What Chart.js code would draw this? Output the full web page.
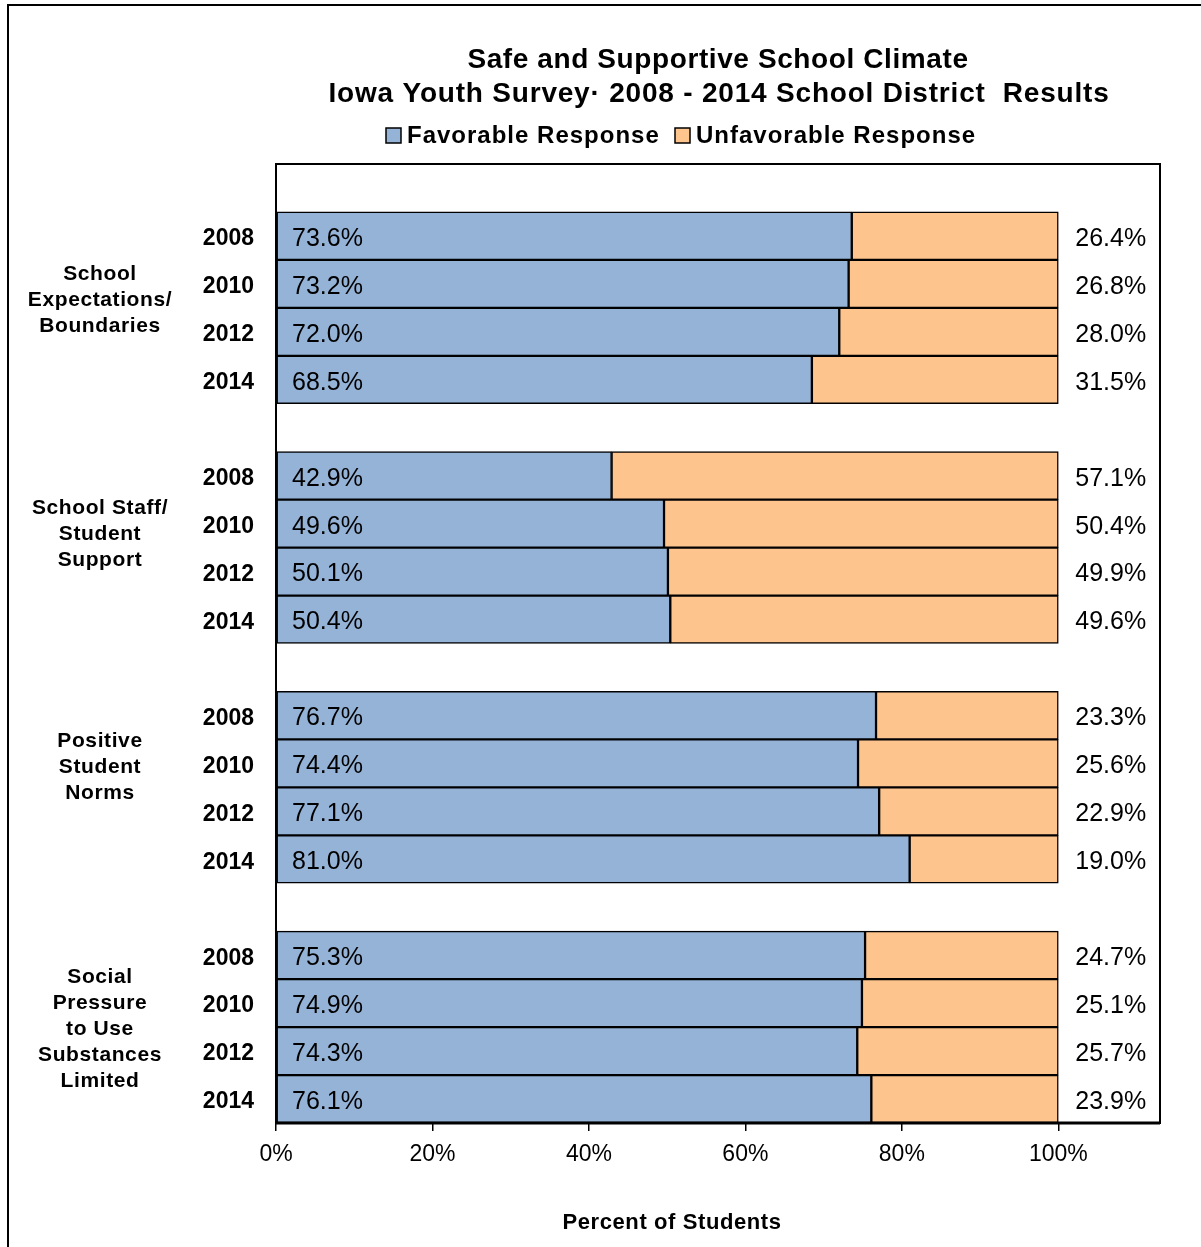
<!DOCTYPE html>
<html>
<head>
<meta charset="utf-8">
<script src="https://cdn.jsdelivr.net/npm/chart.js@4.4.1/dist/chart.umd.min.js"></script>
<style>
  html, body { margin: 0; padding: 0; background: #fff; }
  #wrap { width: 1201px; height: 1247px; position: relative; }
</style>
</head>
<body>
<div id="wrap"><canvas id="chart"></canvas></div>
<script>
const TITLE_LINES = ["Safe and Supportive School Climate", "Iowa Youth Survey· 2008 - 2014 School District  Results"];
const SERIES_LABELS = ["Favorable Response", "Unfavorable Response"];
const YEARS = ["2008", "2010", "2012", "2014"];
const GROUPS = [
  ["School", "Expectations/", "Boundaries"],
  ["School Staff/", "Student", "Support"],
  ["Positive", "Student", "Norms"],
  ["Social", "Pressure", "to Use", "Substances", "Limited"],
];
const FAVORABLE = [
  [73.6, 73.2, 72.0, 68.5],
  [42.9, 49.6, 50.1, 50.4],
  [76.7, 74.4, 77.1, 81.0],
  [75.3, 74.9, 74.3, 76.1],
];
const UNFAVORABLE = [
  [26.4, 26.8, 28.0, 31.5],
  [57.1, 50.4, 49.9, 49.6],
  [23.3, 25.6, 22.9, 19.0],
  [24.7, 25.1, 25.7, 23.9],
];
const X_TICKS = [0, 20, 40, 60, 80, 100];

const BLUE = "#95B3D7";
const ORANGE = "#FDC48E";
const FONT = "'Liberation Sans', Arial, sans-serif";

// one blank slot before each group of four years
const labels = [];
const favData = [];
const unfData = [];
GROUPS.forEach((g, gi) => {
  labels.push("");
  favData.push(null);
  unfData.push(null);
  YEARS.forEach((y, yi) => {
    labels.push(y);
    favData.push(FAVORABLE[gi][yi]);
    unfData.push(UNFAVORABLE[gi][yi]);
  });
});

const GROUP_SHIFT = [-8, -13, -20, 2];

const decorPlugin = {
  id: "decor",
  beforeDraw(chart) {
    const { ctx, width } = chart;
    ctx.save();
    ctx.fillStyle = "#fff";
    ctx.fillRect(0, 0, width, chart.height);
    ctx.restore();
  },
  afterDatasetsDraw(chart) {
    const { ctx, chartArea: a, scales } = chart;
    const x = scales.x;
    ctx.save();

    // value labels
    ctx.fillStyle = "#000";
    ctx.font = "25px " + FONT;
    ctx.textBaseline = "middle";
    ctx.textAlign = "left";
    chart.getDatasetMeta(0).data.forEach((bar, i) => {
      if (favData[i] == null) return;
      ctx.fillText(favData[i].toFixed(1) + "%", x.getPixelForValue(0) + 16, bar.y + 3);
    });
    chart.getDatasetMeta(1).data.forEach((bar, i) => {
      if (unfData[i] == null) return;
      ctx.fillText(unfData[i].toFixed(1) + "%", x.getPixelForValue(100) + 17, bar.y + 3);
    });

    // plot frame
    ctx.strokeStyle = "#000";
    ctx.lineWidth = 2;
    ctx.strokeRect(a.left, a.top, a.right - a.left, a.bottom - a.top);
    ctx.lineWidth = 3;
    ctx.beginPath();
    ctx.moveTo(a.left, a.bottom);
    ctx.lineTo(a.right, a.bottom);
    ctx.stroke();

    // group labels
    const y = scales.y;
    ctx.font = "bold 21px " + FONT;
    ctx.letterSpacing = "0.6px";
    ctx.textAlign = "center";
    GROUPS.forEach((lines, gi) => {
      const first = y.getPixelForValue(gi * 5 + 1);
      const last = y.getPixelForValue(gi * 5 + 4);
      const mid = (first + last) / 2 + GROUP_SHIFT[gi];
      const lh = 26;
      lines.forEach((t, li) => {
        ctx.fillText(t, 100, mid - ((lines.length - 1) / 2) * lh + li * lh);
      });
    });

    // titles
    ctx.font = "bold 28px " + FONT;
    ctx.textAlign = "center";
    ctx.textBaseline = "middle";
    ctx.letterSpacing = "0.6px";
    ctx.fillText(TITLE_LINES[0], 718, 60, 502);
    ctx.letterSpacing = "0.8px";
    ctx.fillText(TITLE_LINES[1], 719, 94, 784);

    // legend
    ctx.font = "bold 24px " + FONT;
    ctx.letterSpacing = "1px";
    ctx.textAlign = "left";
    const items = [
      { color: BLUE, box: 386, tx: 407, w: 259 },
      { color: ORANGE, box: 675, tx: 696, w: 287 },
    ];
    items.forEach((it, i) => {
      ctx.fillStyle = it.color;
      ctx.fillRect(it.box, 128, 15, 15);
      ctx.strokeStyle = "#000";
      ctx.lineWidth = 1.5;
      ctx.strokeRect(it.box, 128, 15, 15);
      ctx.fillStyle = "#000";
      ctx.fillText(SERIES_LABELS[i], it.tx, 136, it.w);
    });

    // x axis title
    ctx.font = "bold 22px " + FONT;
    ctx.letterSpacing = "0.6px";
    ctx.textAlign = "center";
    ctx.fillText("Percent of Students", 672, 1223, 226);
    ctx.letterSpacing = "0px";

    // outer frame (only left and top are in view)
    ctx.lineWidth = 2;
    ctx.beginPath();
    ctx.moveTo(8, 1247);
    ctx.lineTo(8, 5);
    ctx.lineTo(1201, 5);
    ctx.stroke();

    ctx.restore();
  },
};

new Chart(document.getElementById("chart"), {
  type: "bar",
  data: {
    labels,
    datasets: [
      {
        label: SERIES_LABELS[0],
        data: favData,
        backgroundColor: BLUE,
        borderColor: "#000",
        borderWidth: 1.5,
        borderSkipped: false,
      },
      {
        label: SERIES_LABELS[1],
        data: unfData,
        backgroundColor: ORANGE,
        borderColor: "#000",
        borderWidth: 1.5,
        borderSkipped: false,
      },
    ],
  },
  options: {
    indexAxis: "y",
    responsive: true,
    maintainAspectRatio: false,
    animation: false,
    devicePixelRatio: 1,
    barPercentage: 1,
    categoryPercentage: 1,
    layout: { padding: { left: 0, top: 164, right: 41, bottom: 0 } },
    plugins: {
      legend: { display: false },
      title: { display: false },
      tooltip: { enabled: false },
    },
    scales: {
      x: {
        stacked: true,
        min: 0,
        max: 113,
        afterBuildTicks: (s) => {
          s.ticks = X_TICKS.map((v) => ({ value: v }));
        },
        afterFit: (s) => { s.height = 1247 - 1123; },
        border: { display: false },
        grid: {
          drawOnChartArea: false,
          drawTicks: true,
          tickLength: 8,
          color: "#000",
          lineWidth: 1.5,
        },
        ticks: {
          autoSkip: false,
          maxRotation: 0,
          color: "#000",
          padding: 10,
          font: { family: FONT, size: 23 },
          callback: (v) => v + "%",
        },
      },
      y: {
        stacked: true,
        afterFit: (s) => { s.width = 276; },
        border: { display: false },
        grid: { display: false, drawTicks: false },
        ticks: {
          autoSkip: false,
          color: "#000",
          padding: 22,
          labelOffset: 3,
          font: { family: FONT, size: 23, weight: "bold" },
        },
      },
    },
  },
  plugins: [decorPlugin],
});
</script>
</body>
</html>
